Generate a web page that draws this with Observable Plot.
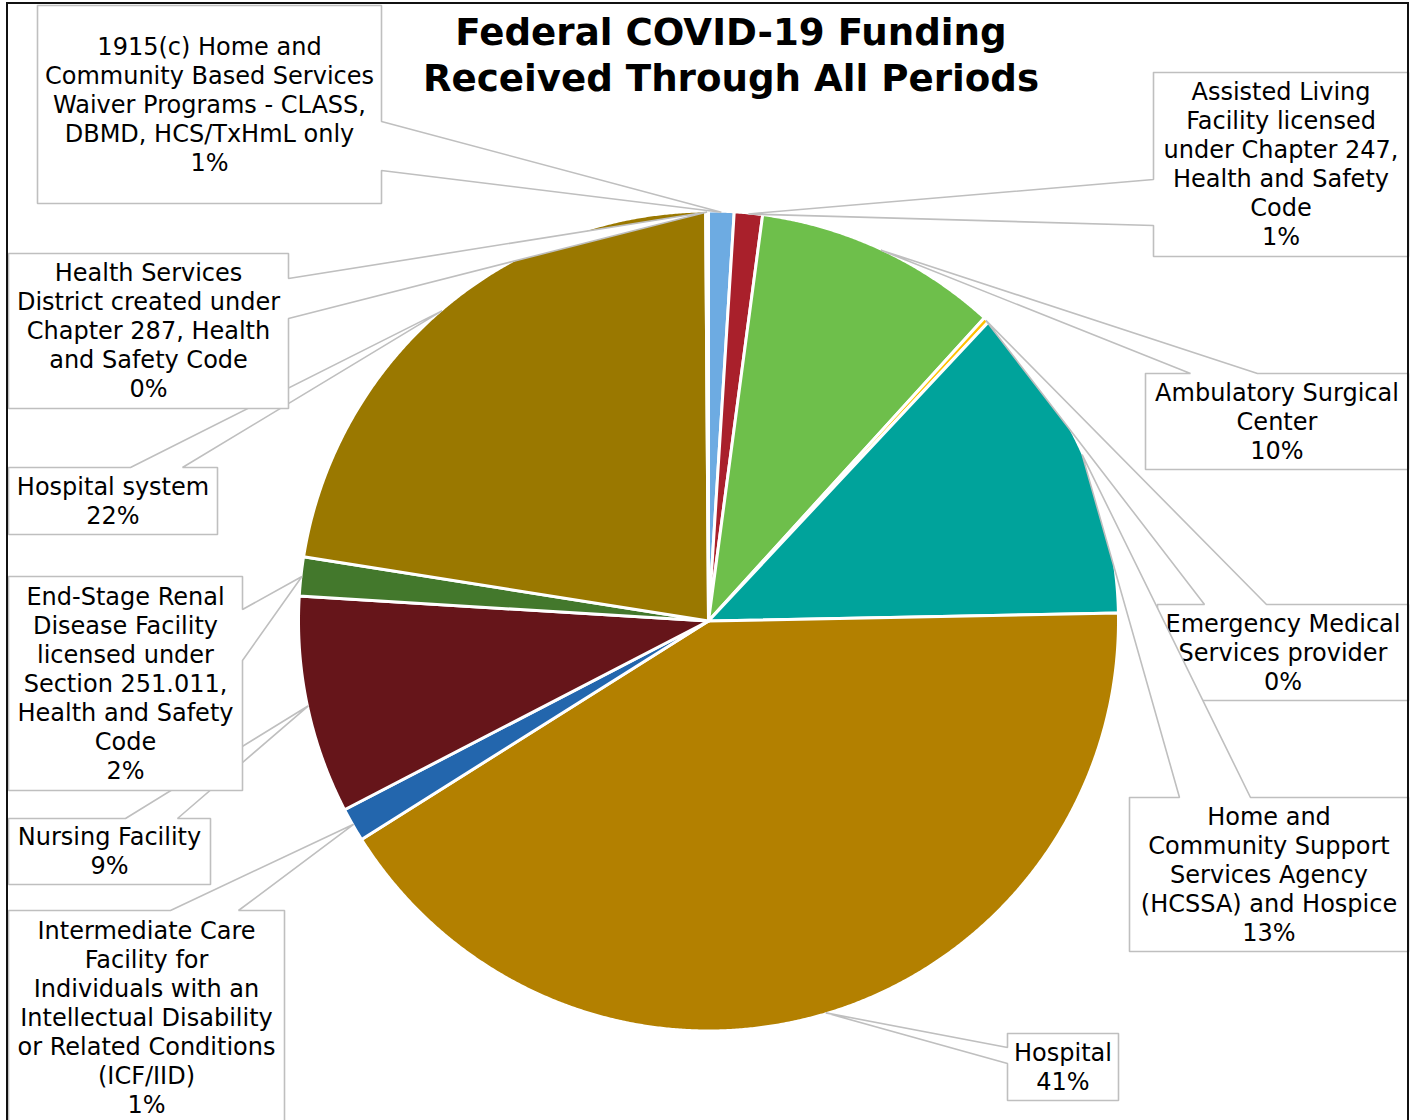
<!DOCTYPE html>
<html><head><meta charset="utf-8">
<script src="https://cdn.jsdelivr.net/npm/d3@7"></script>
<script src="https://cdn.jsdelivr.net/npm/@observablehq/plot@0.6"></script>
<style>
body{margin:0;background:#fff;}
#wrap{position:relative;width:1416px;height:1120px;overflow:hidden;background:#fff;}
#title{position:absolute;left:331px;width:800px;top:9px;text-align:center;font:bold 37.2px/46px "DejaVu Sans",Verdana,sans-serif;color:#000;}
#border{position:absolute;left:6px;top:2px;width:1403px;height:1200px;border:2px solid #111;box-sizing:border-box;pointer-events:none;}
</style></head><body>
<div id="wrap"><div id="chart"></div><div id="title">Federal COVID-19 Funding<br>Received Through All Periods</div><div id="border"></div></div>
<script>
// ---- data ----
const categories = [
  "1915(c) Home and\nCommunity Based Services\nWaiver Programs - CLASS,\nDBMD, HCS/TxHmL only",
  "Assisted Living\nFacility licensed\nunder Chapter 247,\nHealth and Safety\nCode",
  "Ambulatory Surgical\nCenter",
  "Emergency Medical\nServices provider",
  "Home and\nCommunity Support\nServices Agency\n(HCSSA) and Hospice",
  "Hospital",
  "Intermediate Care\nFacility for\nIndividuals with an\nIntellectual Disability\nor Related Conditions\n(ICF/IID)",
  "Nursing Facility",
  "End-Stage Renal\nDisease Facility\nlicensed under\nSection 251.011,\nHealth and Safety\nCode",
  "Hospital system",
  "Health Services\nDistrict created under\nChapter 287, Health\nand Safety Code"
];
const values = [1.0, 1.11, 9.64, 0.22, 12.72, 41.36, 1.33, 8.58, 1.54, 22.38, 0.11];
const colors = ["#6DABE2", "#A9202B", "#6EBF4B", "#FFC000", "#00A39B", "#B38000",
                "#2366AD", "#66151A", "#43782C", "#9A7800", "#264478"];

// ---- layout (positions of pie and label callouts) ----
const pieLayout = {cx: 708, cy: 620.5, r: 410};
const calloutLayout = [
  {x0: 37,   y0: 5,    x1: 381,  y1: 203,  side: "right", b0: 121,  b1: 170},
  {x0: 1153, y0: 72,   x1: 1408, y1: 256,  side: "left",  b0: 179,  b1: 225},
  {x0: 1145, y0: 373,  x1: 1408, y1: 469,  side: "top",   b0: 1190, b1: 1257},
  {x0: 1157, y0: 604,  x1: 1408, y1: 700,  side: "top",   b0: 1204, b1: 1266},
  {x0: 1129, y0: 797,  x1: 1408, y1: 951,  side: "top",   b0: 1179, b1: 1250},
  {x0: 1007, y0: 1033, x1: 1118, y1: 1100, side: "left",  b0: 1047, b1: 1063},
  {x0: 8,    y0: 910,  x1: 284,  y1: 1124, side: "top",   b0: 170,  b1: 238},
  {x0: 8,    y0: 818,  x1: 210,  y1: 884,  side: "top",   b0: 125,  b1: 177},
  {x0: 8,    y0: 576,  x1: 242,  y1: 790,  side: "right", b0: 609,  b1: 660},
  {x0: 8,    y0: 467,  x1: 217,  y1: 534,  side: "top",   b0: 130,  b1: 182},
  {x0: 8,    y0: 253,  x1: 288,  y1: 408,  side: "right", b0: 278,  b1: 318}
];

const W = 1416, H = 1120;
const total = d3.sum(values);
const arcs = d3.pie().sort(null).value(d => d)(values);
const pt = (a, r) => ({x: pieLayout.cx + r * Math.sin(a), y: pieLayout.cy - r * Math.cos(a)});

// slice polygons
const slices = arcs.map((a, i) => {
  const pts = [{x: pieLayout.cx, y: pieLayout.cy}];
  const n = Math.max(2, Math.ceil((a.endAngle - a.startAngle) / (Math.PI / 720)));
  for (let k = 0; k <= n; k++) pts.push(pt(a.startAngle + (a.endAngle - a.startAngle) * k / n, pieLayout.r));
  pts.push({x: pieLayout.cx, y: pieLayout.cy});
  return pts;
});

// callout polygons (box with wedge pointing at slice's outer mid-point)
function calloutPoly(c, apex) {
  const {x0, y0, x1, y1, side, b0, b1} = c;
  const p = [{x: x0, y: y0}];
  if (side === "top") p.push({x: b0, y: y0}, apex, {x: b1, y: y0});
  p.push({x: x1, y: y0});
  if (side === "right") p.push({x: x1, y: b0}, apex, {x: x1, y: b1});
  p.push({x: x1, y: y1});
  if (side === "bottom") p.push({x: b1, y: y1}, apex, {x: b0, y: y1});
  p.push({x: x0, y: y1});
  if (side === "left") p.push({x: x0, y: b1}, apex, {x: x0, y: b0});
  p.push({x: x0, y: y0});
  return p;
}

const labelMarks = arcs.flatMap((a, i) => {
  const c = calloutLayout[i];
  const apex = pt((a.startAngle + a.endAngle) / 2, pieLayout.r - 1);
  const txt = categories[i] + "\n" + Math.round(values[i] / total * 100) + "%";
  return [
    Plot.line(calloutPoly(c, apex), {x: "x", y: "y", fill: "white", stroke: "#BFBFBF", strokeWidth: 1.6, curve: "linear", strokeLinejoin: "miter"}),
    Plot.text([txt], {x: () => (c.x0 + c.x1) / 2, y: () => (c.y0 + c.y1) / 2 - 1, text: d => d,
      fontSize: 24, fontFamily: "DejaVu Sans, Verdana, sans-serif", lineHeight: 1.21,
      textAnchor: "middle", lineAnchor: "middle", fill: "#000"})
  ];
});

const chart = Plot.plot({
  width: W, height: H, margin: 0,
  style: {background: "white", overflow: "visible"},
  x: {domain: [0, W], range: [0, W], axis: null},
  y: {domain: [0, H], range: [0, H], axis: null},
  marks: [
    ...slices.map((s, i) => Plot.line(s, {x: "x", y: "y", fill: colors[i], stroke: "white", strokeWidth: 3, strokeLinejoin: "round", curve: "linear"})),
    ...labelMarks
  ]
});
document.getElementById("chart").appendChild(chart);
</script>
</body></html>
